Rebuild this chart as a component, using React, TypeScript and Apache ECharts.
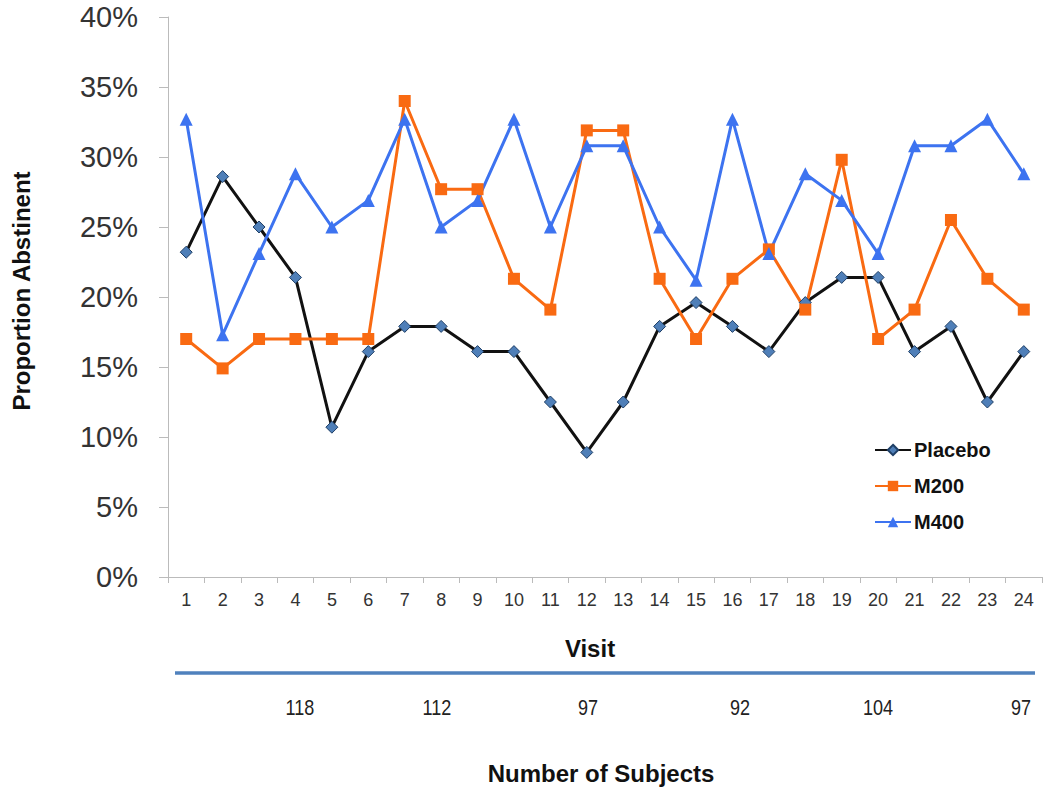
import React, { useEffect, useRef } from "react";
import * as echarts from "echarts";

const visits = Array.from({ length: 24 }, (_, i) => String(i + 1));
const placebo = [23.2, 28.6, 25.0, 21.4, 10.7, 16.1, 17.9, 17.9, 16.1, 16.1, 12.5, 8.9, 12.5, 17.9, 19.6, 17.9, 16.1, 19.6, 21.4, 21.4, 16.1, 17.9, 12.5, 16.1];
const m200 = [17.0, 14.9, 17.0, 17.0, 17.0, 17.0, 34.0, 27.7, 27.7, 21.3, 19.1, 31.9, 31.9, 21.3, 17.0, 21.3, 23.4, 19.1, 29.8, 17.0, 19.1, 25.5, 21.3, 19.1];
const m400 = [32.7, 17.3, 23.1, 28.8, 25.0, 26.9, 32.7, 25.0, 26.9, 32.7, 25.0, 30.8, 30.8, 25.0, 21.2, 32.7, 23.1, 28.8, 26.9, 23.1, 30.8, 30.8, 32.7, 28.8];
const subjectCounts = ["118", "112", "97", "92", "104", "97"];
const subjectX = [300, 437, 588, 740, 878, 1021];

export default function App() {
  const ref = useRef<HTMLDivElement>(null);
  useEffect(() => {
    const chart = echarts.init(ref.current!, undefined, { renderer: "svg" });
    const font = "'Liberation Sans', Arial, sans-serif";
    chart.setOption({
      animation: false,
      backgroundColor: "#fff",
      textStyle: { fontFamily: font },
      grid: { left: 168, right: 8, top: 17, bottom: 217, containLabel: false },
      legend: {
        orient: "vertical",
        left: 869,
        top: 435,
        itemGap: 16,
        itemWidth: 36,
        itemHeight: 13,
        textStyle: { fontSize: 20, fontWeight: "bold", color: "#111", fontFamily: font, padding: [0, 0, 0, -2] },
        data: ["Placebo", "M200", "M400"],
      },
      xAxis: {
        type: "category",
        data: visits,
        boundaryGap: true,
        axisLine: { lineStyle: { color: "#bbb", width: 1 } },
        axisTick: { show: true, alignWithLabel: false, length: 6, lineStyle: { color: "#bbb" } },
        axisLabel: { color: "#333", fontSize: 18, margin: 14, fontFamily: font },
      },
      yAxis: {
        type: "value",
        min: 0,
        max: 40,
        interval: 5,
        axisLine: { show: true, lineStyle: { color: "#bbb", width: 1 } },
        axisTick: { show: true, length: 9, lineStyle: { color: "#bbb" } },
        splitLine: { show: false },
        axisLabel: { color: "#333", fontSize: 29, margin: 30, formatter: "{value}%", fontFamily: font },
      },
      series: [
        {
          name: "Placebo",
          type: "line",
          data: placebo,
          symbol: "diamond",
          symbolSize: 12,
          lineStyle: { color: "#111", width: 3 },
          itemStyle: { color: "#4f7fb8", borderColor: "#1f3f66", borderWidth: 1 },
        },
        {
          name: "M200",
          type: "line",
          data: m200,
          symbol: "rect",
          symbolSize: 12,
          lineStyle: { color: "#f96a12", width: 3 },
          itemStyle: { color: "#f96a12" },
        },
        {
          name: "M400",
          type: "line",
          data: m400,
          symbol: "triangle",
          symbolSize: 13,
          lineStyle: { color: "#3d73f0", width: 3 },
          itemStyle: { color: "#3d73f0" },
        },
      ],
      graphic: [
        {
          type: "text",
          x: 21,
          y: 291,
          rotation: Math.PI / 2,
          style: { text: "Proportion Abstinent", fontSize: 24, fontWeight: "bold", fill: "#111", align: "center", verticalAlign: "middle", fontFamily: font },
        },
        {
          type: "text",
          x: 590,
          y: 648,
          style: { text: "Visit", fontSize: 24, fontWeight: "bold", fill: "#111", align: "center", verticalAlign: "middle", fontFamily: font },
        },
        {
          type: "line",
          shape: { x1: 175, y1: 673, x2: 1035, y2: 673 },
          style: { stroke: "#4f81bd", lineWidth: 3.5 },
        },
        ...subjectCounts.map((t, i) => ({
          type: "text",
          x: subjectX[i],
          y: 707,
          scaleX: 0.82,
          style: { text: t, fontSize: 22, fill: "#222", align: "center", verticalAlign: "middle", fontFamily: font },
        })),
        {
          type: "text",
          x: 601,
          y: 773,
          style: { text: "Number of Subjects", fontSize: 24, fontWeight: "bold", fill: "#111", align: "center", verticalAlign: "middle", fontFamily: font },
        },
      ],
    });
    return () => chart.dispose();
  }, []);
  return <div ref={ref} style={{ width: 1050, height: 794, position: "absolute", left: 0, top: 0 }} />;
}
